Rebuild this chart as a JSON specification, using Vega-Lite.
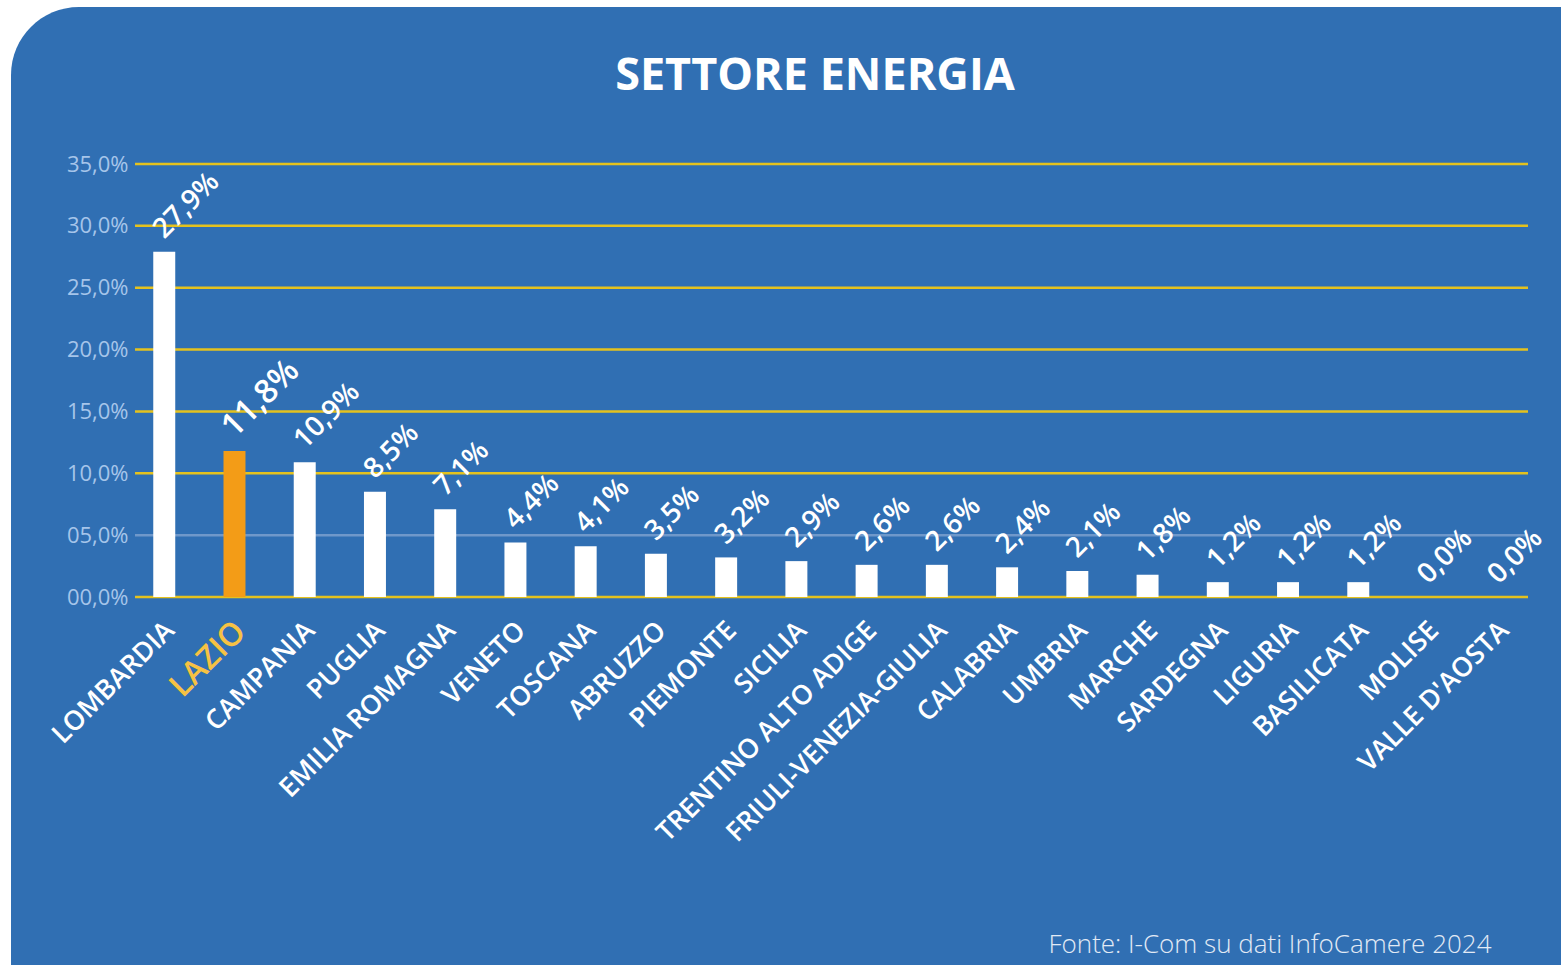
{
  "$schema": "https://vega.github.io/schema/vega-lite/v6.json",
  "autosize": {"type": "none"},
  "padding": {"left": 11, "top": 7, "right": -70, "bottom": -72},
  "width": 1620,
  "height": 1030,
  "background": "white",
  "config": {
    "locale": {"number": {"decimal": ",", "thousands": ".", "grouping": [3], "currency": ["€", ""]}},
    "view": {"fill": "#306fb3", "stroke": null, "cornerRadius": 68},
    "font": "Open Sans"
  },
  "title": {
    "text": "SETTORE ENERGIA",
    "font": "Open Sans",
    "fontSize": 45,
    "fontWeight": 700,
    "color": "white",
    "anchor": "middle",
    "baseline": "alphabetic",
    "offset": -128,
    "dx": -6
  },
  "datasets": {
    "regions": [
      {"region": "LOMBARDIA", "share": 0.279},
      {"region": "LAZIO", "share": 0.118},
      {"region": "CAMPANIA", "share": 0.109},
      {"region": "PUGLIA", "share": 0.085},
      {"region": "EMILIA ROMAGNA", "share": 0.071},
      {"region": "VENETO", "share": 0.044},
      {"region": "TOSCANA", "share": 0.041},
      {"region": "ABRUZZO", "share": 0.035},
      {"region": "PIEMONTE", "share": 0.032},
      {"region": "SICILIA", "share": 0.029},
      {"region": "TRENTINO ALTO ADIGE", "share": 0.026},
      {"region": "FRIULI-VENEZIA-GIULIA", "share": 0.026},
      {"region": "CALABRIA", "share": 0.024},
      {"region": "UMBRIA", "share": 0.021},
      {"region": "MARCHE", "share": 0.018},
      {"region": "SARDEGNA", "share": 0.012},
      {"region": "LIGURIA", "share": 0.012},
      {"region": "BASILICATA", "share": 0.012},
      {"region": "MOLISE", "share": 0.0},
      {"region": "VALLE D'AOSTA", "share": 0.0}
    ],
    "grid": [
      {"v": 0.0}, {"v": 0.05}, {"v": 0.10}, {"v": 0.15},
      {"v": 0.20}, {"v": 0.25}, {"v": 0.30}, {"v": 0.35}
    ]
  },
  "layer": [
    {
      "data": {"name": "grid"},
      "mark": {"type": "rule", "strokeWidth": 2.5},
      "encoding": {
        "y": {"field": "v", "type": "quantitative",
              "scale": {"domain": [0, 0.35], "range": [590, 157], "nice": false, "zero": true},
              "axis": {
                "orient": "left",
                "offset": -124,
                "values": [0, 0.05, 0.10, 0.15, 0.20, 0.25, 0.30, 0.35],
                "format": "05.1%",
                "domain": false,
                "ticks": false,
                "grid": false,
                "labelPadding": 7,
                "labelFont": "Open Sans",
                "labelFontSize": 22,
                "labelColor": "#a6c5ea",
                "title": null
              }},
        "x": {"datum": 0, "type": "quantitative", "axis": null,
              "scale": {"domain": [0, 1], "range": [124, 1517], "nice": false}},
        "x2": {"datum": 1},
        "color": {"condition": {"test": "datum.v == 0.05", "value": "#6f98ca"}, "value": "#e4c21e"}
      }
    },
    {
      "data": {"name": "regions"},
      "encoding": {
        "x": {
          "field": "region", "type": "nominal", "sort": null,
          "scale": {"range": [124, 1517], "paddingInner": 0.687, "paddingOuter": 0.26},
          "axis": {
            "orient": "bottom",
            "offset": -440,
            "domain": false,
            "ticks": false,
            "grid": false,
            "labelAngle": -45,
            "labelAlign": "right",
            "labelBaseline": "middle",
            "labelPadding": 29,
            "labelOffset": 6,
            "labelFont": "Open Sans",
            "labelFontWeight": 600,
            "labelFontSize": {"condition": {"test": "datum.value == 'LAZIO'", "value": 32}, "value": 27},
            "labelColor": {"condition": {"test": "datum.value == 'LAZIO'", "value": "#f6c243"}, "value": "white"},
            "labelLimit": 0,
            "labelOverlap": false,
            "title": "Fonte: I-Com su dati InfoCamere 2024",
            "titleFont": "Open Sans",
            "titleFontWeight": 300,
            "titleFontSize": 26,
            "titleColor": "#e2eaf5",
            "titleAnchor": null,
            "titleAlign": "right",
            "titleBaseline": "alphabetic",
            "titleX": 1480,
            "titleY": 355
          }
        },
        "y": {
          "field": "share", "type": "quantitative",
          "scale": {"domain": [0, 0.35], "range": [590, 157], "nice": false},
          "axis": {
            "orient": "left",
            "offset": -124,
            "values": [0, 0.05, 0.10, 0.15, 0.20, 0.25, 0.30, 0.35],
            "format": "05.1%",
            "domain": false,
            "ticks": false,
            "grid": false,
            "labelPadding": 7,
            "labelFont": "Open Sans",
            "labelFontSize": 22,
            "labelColor": "#a6c5ea",
            "title": null
          }
        }
      },
      "layer": [
        {
          "mark": {"type": "bar"},
          "encoding": {
            "color": {"condition": {"test": "datum.region == 'LAZIO'", "value": "#f39c17"}, "value": "white"}
          }
        },
        {
          "mark": {"type": "text", "angle": -45, "align": "left", "baseline": "alphabetic",
                   "xOffset": 0, "yOffset": -12, "font": "Open Sans", "fontWeight": 600, "color": "white"},
          "encoding": {
            "text": {"field": "share", "type": "quantitative", "format": ".1%"},
            "size": {"condition": {"test": "datum.region == 'LAZIO'", "value": 33}, "value": 28}
          }
        }
      ]
    }
  ],
  "resolve": {"scale": {"x": "independent"}, "axis": {"x": "independent"}}
}
